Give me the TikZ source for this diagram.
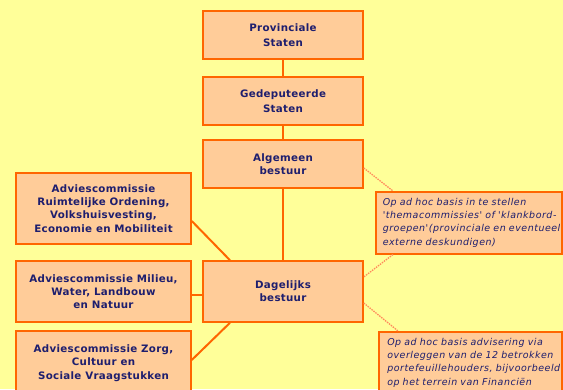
\documentclass[tikz,border=0pt]{standalone}
\usepackage{fontspec}
\setmainfont{DejaVu Sans}
\newfontfamily\orgfont[LetterSpace=3]{DejaVu Sans}
\newfontfamily\notefont[LetterSpace=5.5]{DejaVu Sans}
\begin{document}
\definecolor{bgyellow}{HTML}{FFFF99}
\definecolor{boxfill}{HTML}{FFCC99}
\definecolor{boxline}{HTML}{FF6600}
\definecolor{ink}{HTML}{1E1E6E}
\definecolor{linkdash}{HTML}{FF8A5C}
\begin{tikzpicture}[x=1bp,y=-1bp,
  orgbox/.style={draw=boxline, line width=1.5bp, fill=boxfill, text=ink,
    font=\orgfont\fontsize{10.3}{13.3}\selectfont\bfseries, align=center, inner sep=0pt},
  notebox/.style={draw=boxline, line width=1.5bp, fill=boxfill, text=ink,
    font=\notefont\fontsize{9.5}{13.2}\selectfont\itshape, align=left,
    inner ysep=0pt, minimum height=62bp, anchor=north west},
  link/.style={draw=boxline, line width=2bp},
  adhoc/.style={draw=linkdash, line width=1.3bp, dash pattern=on 1.5bp off 1bp}]
\useasboundingbox (0,0) rectangle (563,389);
\clip (0,0) rectangle (563,389);
\fill[bgyellow] (0,0) rectangle (563,389);

% main line
\node[orgbox, minimum width=160bp, minimum height=48bp] (ps) at (283,35) {Provinciale\\[1.5bp]Staten};
\node[orgbox, minimum width=160bp, minimum height=48bp] (gs) at (283,101) {Gedeputeerde\\[1.5bp]Staten};
\node[orgbox, minimum width=160bp, minimum height=48bp] (ab) at (283,164) {Algemeen\\bestuur};
\node[orgbox, minimum width=160bp, minimum height=61bp] (db) at (283,291.5) {Dagelijks\\bestuur};

% advisory committees
\node[orgbox, minimum width=175bp, minimum height=71bp] (c1) at (103.5,208.5)
  {Adviescommissie\\Ruimtelijke Ordening,\\Volkshuisvesting,\\Economie en Mobiliteit};
\node[orgbox, minimum width=175bp, minimum height=61bp] (c2) at (103.5,291.5)
  {Adviescommissie Milieu,\\Water, Landbouw\\en Natuur};
\node[orgbox, minimum width=175bp, minimum height=64bp] (c3) at (103.5,363)
  {Adviescommissie Zorg,\\Cultuur en\\Sociale Vraagstukken};

% ad hoc notes (each line kept whole with \mbox)
\node[notebox, inner xsep=7bp, text width=172bp] (n1) at (375,191)
  {\mbox{Op ad hoc basis in te stellen}\\\mbox{'themacommissies' of 'klankbord-}\\
   \mbox{groepen'(provinciale en eventueel}\\\mbox{externe deskundigen)}};
\node[notebox, inner xsep=8.5bp, text width=166bp] (n2) at (378,331)
  {\mbox{Op ad hoc basis advisering via}\\\mbox{overleggen van de 12 betrokken}\\
   \mbox{portefeuillehouders, bijvoorbeeld}\\\mbox{op het terrein van Financi\"en}};

% solid connectors
\draw[link] (ps.south) -- (gs.north);
\draw[link] (gs.south) -- (ab.north);
\draw[link] (ab.south) -- (db.north);
\draw[link] ([yshift=-12.5bp]c1.east) -- ([xshift=-53bp]db.north);
\draw[link] ([yshift=-3.5bp]c2.east) -- ([yshift=-3.5bp]db.west);
\draw[link] ([yshift=3bp]c3.east) -- ([xshift=-53bp]db.south);

% dashed connectors to the notes
\draw[adhoc] ([yshift=-4bp]ab.east) -- ([xshift=18bp]n1.north west);
\draw[adhoc] ([xshift=18bp]n1.south west) -- ([yshift=14.5bp]db.east);
\draw[adhoc] ([yshift=-11.5bp]db.east) -- ([xshift=20bp]n2.north west);
\end{tikzpicture}
\end{document}
